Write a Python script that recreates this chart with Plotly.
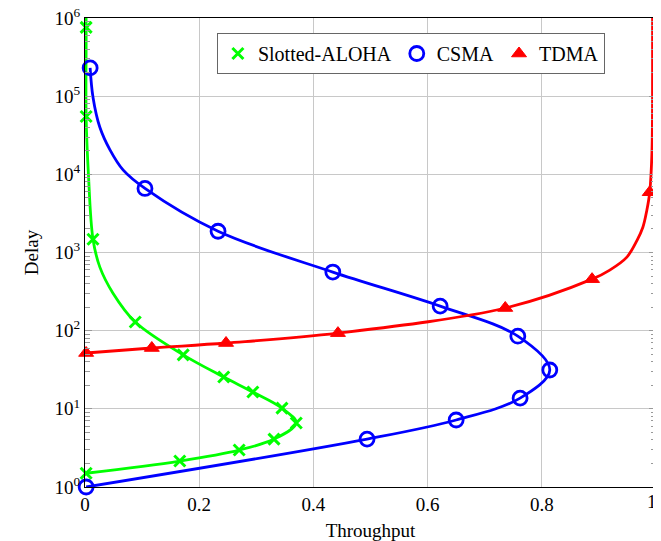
import plotly.graph_objects as go

# Slotted-ALOHA (marked points)
aloha_x = [0.002, 0.002, 0.014, 0.088, 0.172, 0.243, 0.294, 0.345, 0.370, 0.331, 0.270, 0.166, 0.002]
aloha_y = [7.6e5, 5.5e4, 1.48e3, 129, 49, 25.5, 16.4, 10.2, 6.6, 4.1, 2.97, 2.15, 1.5]
# Slotted-ALOHA curve (extends past the top)
aloha_curve_x = [0.001, 0.002, 0.002, 0.006, 0.014, 0.026, 0.049, 0.088, 0.172, 0.243, 0.294, 0.345, 0.370, 0.331, 0.270, 0.166, 0.002]
aloha_curve_y = [3e6, 7.6e5, 5.5e4, 1e4, 1.48e3, 650, 302, 129, 49, 25.5, 16.4, 10.2, 6.6, 4.1, 2.97, 2.15, 1.5]

# CSMA
csma_x = [0.009, 0.105, 0.233, 0.434, 0.622, 0.758, 0.814, 0.762, 0.650, 0.494, 0.002]
csma_y = [2.3e5, 6.6e3, 1.87e3, 562, 206, 85, 31.4, 13.7, 7.2, 4.1, 1.0]
csma_curve_x = [0.009, 0.014, 0.026, 0.044, 0.067, 0.105, 0.233, 0.434, 0.622, 0.758, 0.814, 0.762, 0.650, 0.494, 0.002]
csma_curve_y = [2.3e5, 9.7e4, 4e4, 2.04e4, 1.13e4, 6.6e3, 1.87e3, 562, 206, 85, 31.4, 13.7, 7.2, 4.1, 1.0]

# TDMA
tdma_x = [0.002, 0.117, 0.247, 0.443, 0.736, 0.888, 0.989]
tdma_y = [51.8, 60, 69.5, 93, 195, 456, 5.9e3]
tdma_curve_x = [0.002, 0.117, 0.247, 0.443, 0.736, 0.888, 0.919, 0.949, 0.967, 0.977, 0.984, 0.989, 0.993, 0.994, 0.994]
tdma_curve_y = [51.8, 60, 69.5, 93, 195, 456, 596, 874, 1440, 2100, 3480, 5.9e3, 2e4, 2e5, 3e6]

ytick_vals = [1, 10, 100, 1e3, 1e4, 1e5, 1e6]
ytick_text = ["10<sup>%d</sup>" % i for i in range(7)]
yminor_vals = [m * 10 ** d for d in range(6) for m in range(2, 10)]
xtick_vals = [0, 0.2, 0.4, 0.6, 0.8]
xtick_text = ["0", "0.2", "0.4", "0.6", "0.8"]
xlast_val, xlast_text = 1, "1"

FONT = "Liberation Serif"
GREEN, BLUE, RED = "#00ff00", "#0000ff", "#ff0000"

fig = go.Figure()
for cx, cy, col in [(aloha_curve_x, aloha_curve_y, GREEN),
                    (csma_curve_x, csma_curve_y, BLUE),
                    (tdma_curve_x, tdma_curve_y, RED)]:
    fig.add_trace(go.Scatter(
        x=cx, y=cy, mode="lines", showlegend=False, hoverinfo="skip",
        line=dict(color=col, width=2.8, shape="spline", smoothing=1.0),
    ))

fig.add_trace(go.Scatter(
    x=aloha_x, y=aloha_y, name="Slotted-ALOHA", mode="markers", cliponaxis=False,
    marker=dict(symbol="x-thin", size=11, line=dict(color=GREEN, width=3), color=GREEN),
))
fig.add_trace(go.Scatter(
    x=csma_x, y=csma_y, name="CSMA", mode="markers", cliponaxis=False,
    marker=dict(symbol="circle-open", size=14, line=dict(color=BLUE, width=2.8), color=BLUE),
))
fig.add_trace(go.Scatter(
    x=tdma_x, y=tdma_y, name="TDMA", mode="markers", cliponaxis=False,
    marker=dict(symbol="triangle-up", size=13, color=RED, line=dict(color=RED, width=1)),
))

# last x tick label sits on the right edge of the figure (x range is [0, 1],
# so paper x == data x here)
fig.add_annotation(
    x=xlast_val, xref="paper", xanchor="right", xshift=3, y=0, yref="paper", yanchor="top", yshift=-2,
    text=xlast_text, showarrow=False, font=dict(family=FONT, size=19, color="black"),
)

# The page body adds an 8px offset; size the figure so the plot area lands
# at the same place as in the reference.
fig.update_layout(
    width=653, height=533,
    margin=dict(l=77, r=5, t=10, b=54),
    paper_bgcolor="white", plot_bgcolor="white",
    font=dict(family=FONT, size=19, color="black"),
    legend=dict(
        orientation="h", x=0.231, y=0.968, xanchor="left", yanchor="top",
        bordercolor="#666666", borderwidth=1, bgcolor="white",
        font=dict(family=FONT, size=20), itemwidth=30, tracegroupgap=0,
    ),
    xaxis=dict(
        range=[0, 1], tickvals=xtick_vals, ticktext=xtick_text,
        showgrid=True, gridcolor="#c8c8c8", gridwidth=1,
        showline=True, linecolor="black", linewidth=1, mirror=True,
        ticks="", zeroline=False, automargin=False, ticklabeloverflow="allow",
        title=dict(text="Throughput", font=dict(size=19), standoff=14),
        tickfont=dict(size=19),
    ),
    yaxis=dict(
        type="log", range=[0, 6], tickvals=ytick_vals, ticktext=ytick_text,
        showgrid=True, gridcolor="#c8c8c8", gridwidth=1,
        showline=True, linecolor="black", linewidth=1, mirror="ticks",
        ticks="inside", ticklen=7, tickcolor="#999999", zeroline=False, automargin=False,
        ticklabeloverflow="allow",
        minor=dict(ticks="inside", ticklen=5, tickcolor="#999999", tickvals=yminor_vals, showgrid=False),
        title=dict(text="Delay", font=dict(size=19), standoff=10),
        tickfont=dict(size=19),
    ),
)

fig.write_html("out.html")
